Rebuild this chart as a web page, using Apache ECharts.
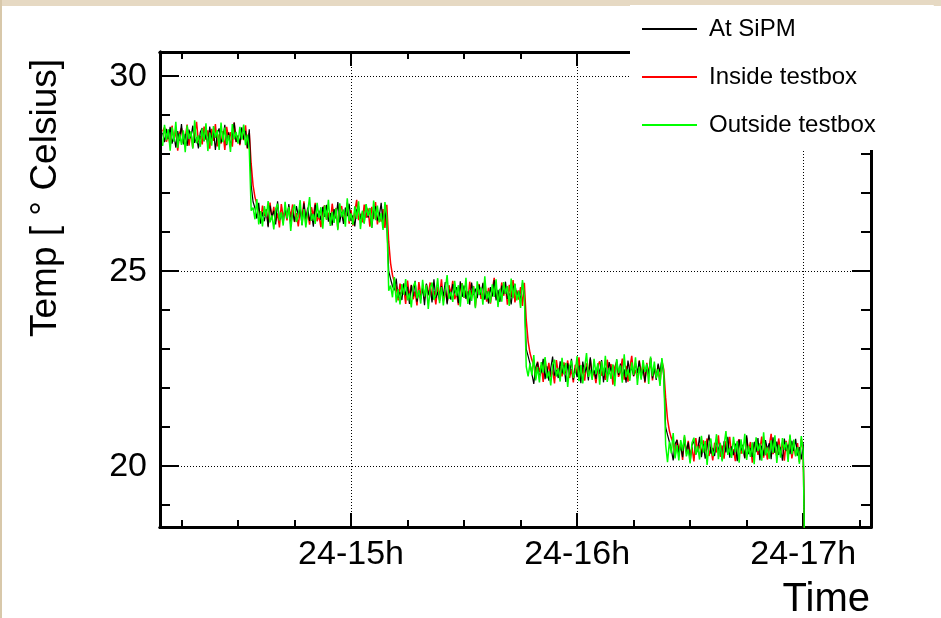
<!DOCTYPE html>
<html><head><meta charset="utf-8">
<script src="https://cdn.jsdelivr.net/npm/echarts@6/dist/echarts.min.js"></script>
<style>html,body{margin:0;padding:0;background:#e4d6bf;} #c{width:941px;height:618px;}</style>
</head><body><div id="c"></div>
<script>
// Time axis in minutes after 24-14h; one reading every 30 s
const seriesNames = ['At SiPM', 'Inside testbox', 'Outside testbox'];
const seriesColors = ['#000000', '#ff0000', '#00ff00'];
const firstMinute = 10;
const stepMinutes = 0.5;

const atSiPM = [
28.55,28.31,28.65,28.39,28.70,28.27,28.49,28.17,28.59,28.35,28.77,28.25,28.52,28.21,28.63,28.41,28.73,28.29,28.43,28.15,28.57,28.67,28.33,28.50,28.23,28.71,28.37,28.61,28.11,28.54,28.66,28.30,28.42,28.75,28.23,28.56,28.19,28.51,28.81,28.32,28.47,28.26,28.69,28.38,28.60,28.16,28.64,
27.20,
26.78,26.62,26.35,26.75,26.22,26.51,26.28,26.58,26.13,26.68,26.40,26.55,26.20,26.79,26.31,26.47,26.24,26.62,26.36,26.72,26.15,26.53,26.27,26.67,26.43,26.59,26.18,26.74,26.34,26.63,26.29,26.48,26.14,26.71,26.39,
26.55,26.31,26.65,26.39,26.70,26.27,26.49,26.17,26.59,26.35,26.77,26.25,26.52,26.21,26.63,26.41,26.73,26.29,26.43,26.15,26.57,26.67,26.33,26.50,26.23,26.71,26.37,26.61,26.11,26.54,26.66,26.30,26.42,26.75,26.23,26.56,26.19,
25.00,
24.80,24.62,24.51,24.81,24.32,24.47,24.26,24.69,24.38,24.60,24.16,24.64,
24.35,24.75,24.22,24.51,24.28,24.58,24.13,24.68,24.40,24.55,24.20,24.79,24.31,24.47,24.24,24.62,24.36,24.72,24.15,24.53,24.27,24.67,24.43,24.59,24.18,24.74,24.34,24.63,24.29,24.48,24.14,24.71,24.39,
24.55,24.31,24.65,24.39,24.70,24.27,24.49,24.17,24.59,24.35,24.77,24.25,24.52,24.21,24.63,24.41,24.73,24.29,24.43,24.15,24.57,24.67,24.33,24.50,24.23,24.71,24.37,
23.00,
22.82,22.63,22.61,22.11,22.54,22.66,22.30,22.42,22.75,22.23,22.56,22.19,22.51,22.81,22.32,22.47,22.26,22.69,22.38,22.60,22.16,22.64,
22.35,22.75,22.22,22.51,22.28,22.58,22.13,22.68,22.40,22.55,22.20,22.79,22.31,22.47,22.24,22.62,22.36,22.72,22.15,22.53,22.27,22.67,22.43,22.59,22.18,22.74,22.34,22.63,22.29,22.48,22.14,22.71,22.39,
22.55,22.31,22.65,22.39,22.70,22.27,22.49,22.17,22.59,22.35,22.77,22.25,22.52,22.21,22.63,22.41,22.73,22.29,
21.00,
20.80,20.62,20.43,20.15,20.57,20.67,20.33,20.50,20.23,20.71,20.37,20.61,20.11,20.54,20.66,20.30,20.42,20.75,20.23,20.56,20.19,20.51,20.81,20.32,20.47,20.26,20.69,20.38,20.60,20.16,20.64,
20.35,20.75,20.22,20.51,20.28,20.58,20.13,20.68,20.40,20.55,20.20,20.79,20.31,20.47,20.24,20.62,20.36,20.72,20.15,20.53,20.27,20.67,20.43,20.59,20.18,20.74,20.34,20.63,20.29,20.48,20.14,20.71,20.39,
20.55,20.31,20.65,20.39,20.70,20.27,20.49,20.17,20.59,
17.00];

const insideTestbox = [
28.58,28.69,28.32,28.50,28.21,28.73,28.36,28.62,28.09,28.54,28.67,28.29,28.42,28.76,28.22,28.57,28.17,28.52,28.83,28.31,28.47,28.25,28.71,28.37,28.61,28.14,28.65,28.34,28.77,28.20,28.51,28.27,28.59,28.11,28.70,28.40,28.56,28.19,28.81,28.31,28.48,28.23,28.63,28.36,28.74,28.14,28.54,
27.75,
27.20,26.90,26.72,26.60,26.25,26.68,26.42,26.59,26.16,26.76,26.33,26.65,26.28,26.48,26.12,26.72,26.39,
26.55,26.30,26.66,26.38,26.71,26.26,26.49,26.15,26.60,26.35,26.79,26.24,26.53,26.19,26.64,26.41,26.75,26.28,26.43,26.13,
26.58,26.69,26.32,26.50,26.21,26.73,26.36,26.62,26.09,26.54,26.67,26.29,26.42,26.76,26.22,26.57,26.17,26.52,26.83,26.31,
26.47,26.25,26.71,26.37,26.61,26.14,26.65,26.34,26.77,26.20,26.51,26.27,26.59,26.11,26.70,
25.75,
25.20,24.90,24.72,24.60,24.25,24.68,24.42,24.59,24.16,24.76,24.33,24.65,24.28,24.48,24.12,24.72,24.39,
24.55,24.30,24.66,24.38,24.71,24.26,24.49,24.15,24.60,24.35,24.79,24.24,24.53,24.19,24.64,24.41,24.75,24.28,24.43,24.13,
24.58,24.69,24.32,24.50,24.21,24.73,24.36,24.62,24.09,24.54,24.67,24.29,24.42,24.76,24.22,24.57,24.17,24.52,24.83,24.31,
24.47,24.25,24.71,24.37,24.61,24.14,24.65,24.34,24.77,24.20,24.51,24.27,24.59,24.11,24.70,
23.75,
23.20,22.90,22.72,22.60,22.25,22.68,22.42,22.59,22.16,22.76,22.33,22.65,22.28,22.48,22.12,22.72,22.39,
22.55,22.30,22.66,22.38,22.71,22.26,22.49,22.15,22.60,22.35,22.79,22.24,22.53,22.19,22.64,22.41,22.75,22.28,22.43,22.13,
22.58,22.69,22.32,22.50,22.21,22.73,22.36,22.62,22.09,22.54,22.67,22.29,22.42,22.76,22.22,22.57,22.17,22.52,22.83,22.31,
22.47,22.25,22.71,22.37,22.61,22.14,22.65,22.34,22.77,22.20,22.51,22.27,22.59,22.11,22.70,22.48,
21.75,
21.20,20.90,20.72,20.60,20.25,20.68,20.42,20.59,20.16,20.76,20.33,20.65,20.28,20.48,20.12,20.72,20.39,
20.55,20.30,20.66,20.38,20.71,20.26,20.49,20.15,20.60,20.35,20.79,20.24,20.53,20.19,20.64,20.41,20.75,20.28,20.43,20.13,
20.58,20.69,20.32,20.50,20.21,20.73,20.36,20.62,20.09,20.54,20.67,20.29,20.42,20.76,20.22,20.57,20.17,20.52,20.83,20.31,
20.47,20.25,20.71,20.37,20.61,20.14,20.65,20.34,20.77,20.20,20.51,20.27,20.59,20.11,20.70,20.40,
17.20];

const outsideTestbox = [
28.21,28.75,28.36,28.64,28.09,28.69,28.32,28.83,28.16,28.52,28.24,28.61,28.05,28.74,28.39,28.58,28.14,28.87,28.28,28.48,28.19,28.66,28.34,28.79,28.08,28.55,28.22,28.72,28.42,28.62,28.11,28.81,28.31,28.68,28.25,28.49,28.06,28.77,28.38,28.57,28.27,28.70,28.37,28.76,28.23,28.50,28.10,
26.55,
26.63,26.33,26.85,26.20,26.54,26.15,26.67,26.40,26.80,26.25,26.43,26.07,26.60,26.73,26.30,26.51,26.17,26.78,26.35,26.65,
26.03,26.56,26.71,26.26,26.41,26.82,26.18,26.59,26.12,26.53,26.90,26.29,26.47,26.21,26.75,26.36,26.64,26.09,26.69,26.32,
26.83,26.16,26.52,26.24,26.61,26.05,26.74,26.39,26.58,26.14,26.87,26.28,26.48,26.19,26.66,26.34,26.79,26.08,26.55,26.22,
26.72,26.42,26.62,26.11,26.81,26.31,26.68,26.25,26.49,26.06,26.77,26.38,
24.50,
24.63,24.33,24.85,24.20,24.54,24.15,24.67,24.40,24.80,24.25,24.43,24.07,24.60,24.73,24.30,24.51,24.17,24.78,24.35,24.65,
24.03,24.56,24.71,24.26,24.41,24.82,24.18,24.59,24.12,24.53,24.90,24.29,24.47,24.21,24.75,24.36,24.64,24.09,24.69,24.32,
24.83,24.16,24.52,24.24,24.61,24.05,24.74,24.39,24.58,24.14,24.87,24.28,24.48,24.19,24.66,24.34,24.79,24.08,24.55,24.22,
24.72,24.42,24.62,24.11,24.81,24.31,24.68,24.25,24.49,24.06,24.77,24.38,
22.55,
22.30,22.63,22.33,22.85,22.20,22.54,22.15,22.67,22.40,22.80,22.25,22.43,22.07,22.60,22.73,22.30,22.51,22.17,22.78,22.35,22.65,
22.03,22.56,22.71,22.26,22.41,22.82,22.18,22.59,22.12,22.53,22.90,22.29,22.47,22.21,22.75,22.36,22.64,22.09,22.69,22.32,
22.83,22.16,22.52,22.24,22.61,22.05,22.74,22.39,22.58,22.14,22.87,22.28,22.48,22.19,22.66,22.34,22.79,22.08,22.55,22.22,
22.72,22.42,22.62,22.11,22.81,22.31,22.68,22.25,22.49,22.06,22.77,22.38,
20.55,
20.10,20.63,20.33,20.85,20.20,20.54,20.15,20.67,20.40,20.80,20.25,20.43,20.07,20.60,20.73,20.30,20.51,20.17,20.78,20.35,20.65,
20.03,20.56,20.71,20.26,20.41,20.82,20.18,20.59,20.12,20.53,20.90,20.29,20.47,20.21,20.75,20.36,20.64,20.09,20.69,20.32,
20.83,20.16,20.52,20.24,20.61,20.05,20.74,20.39,20.58,20.14,20.87,20.28,20.48,20.19,20.66,20.34,20.79,20.08,20.55,20.22,
20.72,20.42,20.62,20.11,20.81,20.31,20.68,20.25,20.49,20.06,20.77,20.38,
16.90];

const xTickValues = [60, 120, 180];
const xTickLabels = ['24-15h', '24-16h', '24-17h'];
const xMinorTicks = [15, 30, 45, 75, 90, 105, 135, 150, 165, 195];
const yTickValues = [20, 25, 30];
const yTickLabels = ['20', '25', '30'];
const yMinorTicks = [19, 21, 22, 23, 24, 26, 27, 28, 29];
const xRange = [9.3, 198];
const yRange = [18.44, 30.62];
const xTitle = 'Time';
const yTitle = 'Temp [ \u00B0 Celsius]';

const FONT = '"Liberation Sans", Arial, Helvetica, sans-serif';
const chart = echarts.init(document.getElementById('c'), null, {renderer: 'canvas'});

function mkX(pos, ticks, len, labels, grid) {
  return {
    type: 'value', position: pos, min: xRange[0], max: xRange[1],
    axisLine: {show: true, onZero: false, lineStyle: {color: '#000', width: 3}},
    axisTick: {show: true, inside: true, length: len, customValues: ticks, lineStyle: {color: '#000', width: 2}},
    axisLabel: labels ? {show: true, customValues: ticks, margin: 11, color: '#000', fontFamily: FONT, fontSize: 34,
      formatter: v => xTickLabels[xTickValues.indexOf(v)] || ''} : {show: false},
    splitLine: grid ? {show: true, lineStyle: {color: '#000', width: 1, type: [1, 2]}} : {show: false}
  };
}
function mkY(pos, ticks, len, labels, grid) {
  return {
    type: 'value', position: pos, min: yRange[0], max: yRange[1],
    axisLine: {show: true, onZero: false, lineStyle: {color: '#000', width: 3}},
    axisTick: {show: true, inside: true, length: len, customValues: ticks, lineStyle: {color: '#000', width: 2}},
    axisLabel: labels ? {show: true, customValues: ticks, margin: 13, color: '#000', fontFamily: FONT, fontSize: 34,
      formatter: v => yTickLabels[yTickValues.indexOf(v)] || ''} : {show: false},
    splitLine: grid ? {show: true, lineStyle: {color: '#000', width: 1, type: [1, 2]}} : {show: false}
  };
}

const toPts = arr => arr.map((v, i) => [firstMinute + i * stepMinutes, v]);
const seriesData = [atSiPM, insideTestbox, outsideTestbox];
const seriesZ = [3, 2, 4];
const seriesW = [1.2, 1.5, 1.5];

chart.setOption({
  animation: false,
  backgroundColor: '#ffffff',
  grid: {left: 160, top: 52, right: 70, bottom: 91},
  xAxis: [
    mkX('bottom', xTickValues, 14, true, true),
    mkX('bottom', xMinorTicks, 7, false, false),
    mkX('top', xTickValues, 14, false, false),
    mkX('top', xMinorTicks, 7, false, false)
  ],
  yAxis: [
    mkY('left', yTickValues, 19, true, true),
    mkY('left', yMinorTicks, 10, false, false),
    mkY('right', yTickValues, 19, false, false),
    mkY('right', yMinorTicks, 10, false, false)
  ],
  legend: {
    show: true, data: seriesNames, orient: 'vertical', left: 630, top: 5,
    padding: [10, 58, 11, 12], backgroundColor: '#ffffff', borderWidth: 0,
    itemWidth: 55, itemHeight: 2, itemGap: 20, icon: 'rect', selectedMode: false,
    textStyle: {fontFamily: FONT, fontSize: 24, color: '#000', lineHeight: 28, padding: [0, 0, 0, 7]}
  },
  series: seriesNames.map((n, k) => ({
    name: n, type: 'line', xAxisIndex: 0, yAxisIndex: 0,
    data: toPts(seriesData[k]), showSymbol: false, symbol: 'none',
    color: seriesColors[k], z: seriesZ[k],
    lineStyle: {color: seriesColors[k], width: seriesW[k]},
    emphasis: {disabled: true}
  })),
  graphic: [
    {type: 'rect', shape: {x: 0, y: 0, width: 941, height: 6}, style: {fill: '#e6d9c3'}, z: 0},
    {type: 'rect', shape: {x: 0, y: 0, width: 2, height: 618}, style: {fill: '#d8c8aa'}, z: 0},
    {type: 'text', x: 870, y: 600, style: {text: xTitle, font: '40px ' + FONT, fill: '#000', align: 'right', verticalAlign: 'middle'}},
    {type: 'text', x: 46, y: 198, rotation: Math.PI / 2, style: {text: yTitle, font: '37px ' + FONT, fill: '#000', align: 'center', verticalAlign: 'middle'}}
  ]
});
</script></body></html>
